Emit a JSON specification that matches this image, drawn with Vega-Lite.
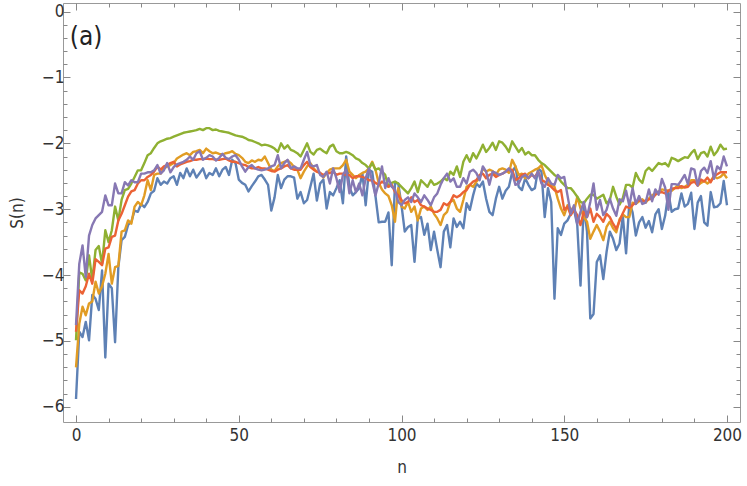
{
  "$schema": "https://vega.github.io/schema/vega-lite/v6.json",
  "width": 677,
  "height": 419,
  "autosize": {"type": "none"},
  "padding": {"left": 63, "top": 3, "right": 7, "bottom": 64},
  "config": {
    "view": {"stroke": "#999999", "strokeWidth": 1},
    "font": "DejaVu Sans Condensed, Liberation Sans Narrow, Roboto, sans-serif"
  },
  "datasets": {
    "s": [
      {"n":0,"a":-5.88,"b":-5.40,"c":-4.99,"d":-4.86,"e":-4.76},
      {"n":1,"a":-4.86,"b":-4.74,"c":-3.96,"d":-4.23,"e":-3.83},
      {"n":2,"a":-4.94,"b":-4.48,"c":-3.98,"d":-4.28,"e":-3.55},
      {"n":3,"a":-4.71,"b":-4.61,"c":-4.08,"d":-4.17,"e":-4.03},
      {"n":4,"a":-4.99,"b":-4.43,"c":-3.70,"d":-3.98,"e":-3.40},
      {"n":5,"a":-4.30,"b":-4.40,"c":-4.08,"d":-4.13,"e":-3.24},
      {"n":6,"a":-4.36,"b":-4.10,"c":-3.62,"d":-3.76,"e":-3.14},
      {"n":7,"a":-4.53,"b":-4.28,"c":-3.56,"d":-3.80,"e":-3.09},
      {"n":8,"a":-3.93,"b":-4.17,"c":-3.83,"d":-3.85,"e":-3.04},
      {"n":9,"a":-5.25,"b":-3.98,"c":-3.32,"d":-3.60,"e":-2.79},
      {"n":10,"a":-4.13,"b":-3.68,"c":-3.50,"d":-3.58,"e":-2.94},
      {"n":11,"a":-4.20,"b":-4.13,"c":-3.32,"d":-3.42,"e":-2.94},
      {"n":12,"a":-5.02,"b":-3.88,"c":-2.96,"d":-3.40,"e":-2.61},
      {"n":13,"a":-3.88,"b":-3.86,"c":-3.17,"d":-3.17,"e":-2.76},
      {"n":14,"a":-3.47,"b":-3.34,"c":-2.86,"d":-3.07,"e":-2.76},
      {"n":15,"a":-3.42,"b":-3.32,"c":-2.71,"d":-2.94,"e":-2.59},
      {"n":16,"a":-3.24,"b":-3.17,"c":-2.69,"d":-2.81,"e":-2.64},
      {"n":17,"a":-3.19,"b":-3.22,"c":-2.61,"d":-2.73,"e":-2.56},
      {"n":18,"a":-3.02,"b":-2.96,"c":-2.51,"d":-2.71,"e":-2.59},
      {"n":19,"a":-3.04,"b":-2.89,"c":-2.41,"d":-2.61,"e":-2.59},
      {"n":20,"a":-2.92,"b":-2.94,"c":-2.41,"d":-2.56,"e":-2.46},
      {"n":21,"a":-2.97,"b":-2.79,"c":-2.30,"d":-2.56,"e":-2.46},
      {"n":22,"a":-2.89,"b":-2.56,"c":-2.18,"d":-2.51,"e":-2.44},
      {"n":23,"a":-2.76,"b":-2.71,"c":-2.15,"d":-2.48,"e":-2.44},
      {"n":24,"a":-2.72,"b":-2.48,"c":-2.07,"d":-2.43,"e":-2.41},
      {"n":25,"a":-2.53,"b":-2.46,"c":-2.00,"d":-2.35,"e":-2.33},
      {"n":26,"a":-2.63,"b":-2.46,"c":-1.97,"d":-2.40,"e":-2.46},
      {"n":27,"a":-2.58,"b":-2.38,"c":-1.95,"d":-2.35,"e":-2.41},
      {"n":28,"a":-2.61,"b":-2.35,"c":-1.93,"d":-2.33,"e":-2.30},
      {"n":29,"a":-2.53,"b":-2.33,"c":-1.92,"d":-2.30,"e":-2.44},
      {"n":30,"a":-2.50,"b":-2.30,"c":-1.90,"d":-2.28,"e":-2.36},
      {"n":31,"a":-2.63,"b":-2.23,"c":-1.88,"d":-2.35,"e":-2.32},
      {"n":32,"a":-2.45,"b":-2.20,"c":-1.86,"d":-2.32,"e":-2.30},
      {"n":33,"a":-2.53,"b":-2.17,"c":-1.84,"d":-2.30,"e":-2.28},
      {"n":34,"a":-2.38,"b":-2.15,"c":-1.83,"d":-2.28,"e":-2.25},
      {"n":35,"a":-2.50,"b":-2.18,"c":-1.82,"d":-2.27,"e":-2.20},
      {"n":36,"a":-2.40,"b":-2.13,"c":-1.81,"d":-2.25,"e":-2.25},
      {"n":37,"a":-2.52,"b":-2.12,"c":-1.80,"d":-2.25,"e":-2.15},
      {"n":38,"a":-2.45,"b":-2.10,"c":-1.78,"d":-2.24,"e":-2.12},
      {"n":39,"a":-2.38,"b":-2.15,"c":-1.80,"d":-2.24,"e":-2.25},
      {"n":40,"a":-2.53,"b":-2.08,"c":-1.77,"d":-2.23,"e":-2.22},
      {"n":41,"a":-2.45,"b":-2.12,"c":-1.77,"d":-2.24,"e":-2.18},
      {"n":42,"a":-2.48,"b":-2.15,"c":-1.80,"d":-2.24,"e":-2.20},
      {"n":43,"a":-2.38,"b":-2.14,"c":-1.79,"d":-2.25,"e":-2.26},
      {"n":44,"a":-2.50,"b":-2.16,"c":-1.81,"d":-2.25,"e":-2.22},
      {"n":45,"a":-2.40,"b":-2.17,"c":-1.82,"d":-2.24,"e":-2.16},
      {"n":46,"a":-2.36,"b":-2.15,"c":-1.83,"d":-2.23,"e":-2.22},
      {"n":47,"a":-2.48,"b":-2.14,"c":-1.84,"d":-2.26,"e":-2.24},
      {"n":48,"a":-2.25,"b":-2.12,"c":-1.86,"d":-2.28,"e":-2.20},
      {"n":49,"a":-2.30,"b":-2.16,"c":-1.88,"d":-2.28,"e":-2.18},
      {"n":50,"a":-2.55,"b":-2.18,"c":-1.89,"d":-2.30,"e":-2.25},
      {"n":51,"a":-2.60,"b":-2.22,"c":-1.90,"d":-2.32,"e":-2.35},
      {"n":52,"a":-2.63,"b":-2.28,"c":-1.92,"d":-2.33,"e":-2.43},
      {"n":53,"a":-2.73,"b":-2.30,"c":-1.95,"d":-2.36,"e":-2.36},
      {"n":54,"a":-2.65,"b":-2.26,"c":-1.96,"d":-2.38,"e":-2.33},
      {"n":55,"a":-2.58,"b":-2.28,"c":-1.98,"d":-2.38,"e":-2.38},
      {"n":56,"a":-2.50,"b":-2.25,"c":-2.00,"d":-2.36,"e":-2.40},
      {"n":57,"a":-2.48,"b":-2.26,"c":-2.03,"d":-2.38,"e":-2.41},
      {"n":58,"a":-2.55,"b":-2.20,"c":-2.02,"d":-2.38,"e":-2.40},
      {"n":59,"a":-2.63,"b":-2.30,"c":-2.03,"d":-2.40,"e":-2.38},
      {"n":60,"a":-3.02,"b":-2.40,"c":-2.05,"d":-2.42,"e":-2.35},
      {"n":61,"a":-2.82,"b":-2.42,"c":-2.08,"d":-2.43,"e":-2.33},
      {"n":62,"a":-2.48,"b":-2.35,"c":-2.13,"d":-2.40,"e":-2.18},
      {"n":63,"a":-2.68,"b":-2.30,"c":-2.00,"d":-2.38,"e":-2.38},
      {"n":64,"a":-2.55,"b":-2.28,"c":-2.08,"d":-2.35,"e":-2.30},
      {"n":65,"a":-2.50,"b":-2.26,"c":-2.03,"d":-2.33,"e":-2.25},
      {"n":66,"a":-2.50,"b":-2.30,"c":-2.10,"d":-2.38,"e":-2.38},
      {"n":67,"a":-2.52,"b":-2.36,"c":-2.12,"d":-2.40,"e":-2.35},
      {"n":68,"a":-2.84,"b":-2.40,"c":-2.15,"d":-2.40,"e":-2.38},
      {"n":69,"a":-2.74,"b":-2.53,"c":-2.20,"d":-2.40,"e":-2.38},
      {"n":70,"a":-2.91,"b":-2.43,"c":-2.10,"d":-2.33,"e":-2.25},
      {"n":71,"a":-2.86,"b":-2.35,"c":-2.00,"d":-2.28,"e":-2.13},
      {"n":72,"a":-2.66,"b":-2.30,"c":-2.13,"d":-2.36,"e":-2.33},
      {"n":73,"a":-2.46,"b":-2.38,"c":-2.17,"d":-2.40,"e":-2.35},
      {"n":74,"a":-2.87,"b":-2.43,"c":-2.10,"d":-2.43,"e":-2.33},
      {"n":75,"a":-2.61,"b":-2.45,"c":-2.08,"d":-2.45,"e":-2.48},
      {"n":76,"a":-2.55,"b":-2.52,"c":-2.12,"d":-2.48,"e":-2.51},
      {"n":77,"a":-2.99,"b":-2.45,"c":-2.15,"d":-2.46,"e":-2.43},
      {"n":78,"a":-2.74,"b":-2.40,"c":-2.05,"d":-2.45,"e":-2.61},
      {"n":79,"a":-2.79,"b":-2.38,"c":-2.02,"d":-2.43,"e":-2.38},
      {"n":80,"a":-2.68,"b":-2.38,"c":-2.12,"d":-2.48,"e":-2.53},
      {"n":81,"a":-2.56,"b":-2.38,"c":-2.15,"d":-2.46,"e":-2.74},
      {"n":82,"a":-2.91,"b":-2.33,"c":-2.15,"d":-2.46,"e":-2.48},
      {"n":83,"a":-2.20,"b":-2.25,"c":-2.13,"d":-2.48,"e":-2.40},
      {"n":84,"a":-2.66,"b":-2.43,"c":-2.15,"d":-2.48,"e":-2.76},
      {"n":85,"a":-2.79,"b":-2.48,"c":-2.18,"d":-2.53,"e":-2.56},
      {"n":86,"a":-2.74,"b":-2.53,"c":-2.23,"d":-2.50,"e":-2.74},
      {"n":87,"a":-2.68,"b":-2.48,"c":-2.25,"d":-2.50,"e":-2.61},
      {"n":88,"a":-2.46,"b":-2.45,"c":-2.30,"d":-2.51,"e":-2.79},
      {"n":89,"a":-2.94,"b":-2.43,"c":-2.33,"d":-2.53,"e":-2.53},
      {"n":90,"a":-2.40,"b":-2.38,"c":-2.38,"d":-2.56,"e":-2.38},
      {"n":91,"a":-2.43,"b":-2.28,"c":-2.30,"d":-2.56,"e":-2.58},
      {"n":92,"a":-2.80,"b":-2.40,"c":-2.40,"d":-2.60,"e":-2.79},
      {"n":93,"a":-3.20,"b":-2.60,"c":-2.38,"d":-2.63,"e":-2.61},
      {"n":94,"a":-3.19,"b":-2.70,"c":-2.43,"d":-2.58,"e":-2.35},
      {"n":95,"a":-3.19,"b":-2.76,"c":-2.48,"d":-2.61,"e":-2.68},
      {"n":96,"a":-3.05,"b":-2.80,"c":-2.66,"d":-2.66,"e":-2.53},
      {"n":97,"a":-3.85,"b":-2.94,"c":-2.60,"d":-2.63,"e":-2.66},
      {"n":98,"a":-2.60,"b":-3.19,"c":-2.58,"d":-2.74,"e":-2.70},
      {"n":99,"a":-2.61,"b":-2.68,"c":-2.61,"d":-2.79,"e":-2.89},
      {"n":100,"a":-2.94,"b":-2.96,"c":-2.66,"d":-2.86,"e":-2.94},
      {"n":101,"a":-3.34,"b":-2.99,"c":-2.71,"d":-2.91,"e":-2.86},
      {"n":102,"a":-3.27,"b":-2.89,"c":-2.76,"d":-2.89,"e":-2.82},
      {"n":103,"a":-3.24,"b":-3.04,"c":-2.68,"d":-2.82,"e":-2.89},
      {"n":104,"a":-3.80,"b":-2.96,"c":-2.58,"d":-2.89,"e":-2.76},
      {"n":105,"a":-3.14,"b":-3.17,"c":-2.74,"d":-2.86,"e":-2.82},
      {"n":106,"a":-3.12,"b":-2.99,"c":-2.56,"d":-2.94,"e":-2.89},
      {"n":107,"a":-3.39,"b":-2.96,"c":-2.61,"d":-2.96,"e":-2.79},
      {"n":108,"a":-3.22,"b":-3.01,"c":-2.66,"d":-2.99,"e":-2.86},
      {"n":109,"a":-3.62,"b":-2.96,"c":-2.56,"d":-3.01,"e":-2.94},
      {"n":110,"a":-3.34,"b":-3.07,"c":-2.63,"d":-3.04,"e":-2.82},
      {"n":111,"a":-3.62,"b":-3.14,"c":-2.61,"d":-3.04,"e":-2.76},
      {"n":112,"a":-3.88,"b":-3.24,"c":-2.58,"d":-3.01,"e":-2.63},
      {"n":113,"a":-3.34,"b":-3.09,"c":-2.53,"d":-2.91,"e":-2.53},
      {"n":114,"a":-3.24,"b":-3.04,"c":-2.56,"d":-2.94,"e":-2.46},
      {"n":115,"a":-3.58,"b":-2.89,"c":-2.43,"d":-2.89,"e":-2.58},
      {"n":116,"a":-3.14,"b":-2.86,"c":-2.48,"d":-2.79,"e":-2.53},
      {"n":117,"a":-3.27,"b":-2.99,"c":-2.35,"d":-2.82,"e":-2.66},
      {"n":118,"a":-3.19,"b":-3.04,"c":-2.51,"d":-2.79,"e":-2.66},
      {"n":119,"a":-3.29,"b":-2.86,"c":-2.28,"d":-2.74,"e":-2.53},
      {"n":120,"a":-2.91,"b":-2.66,"c":-2.18,"d":-2.71,"e":-2.61},
      {"n":121,"a":-3.01,"b":-2.63,"c":-2.28,"d":-2.63,"e":-2.43},
      {"n":122,"a":-2.79,"b":-2.66,"c":-2.15,"d":-2.58,"e":-2.40},
      {"n":123,"a":-2.61,"b":-2.58,"c":-2.23,"d":-2.56,"e":-2.45},
      {"n":124,"a":-2.66,"b":-2.53,"c":-2.13,"d":-2.48,"e":-2.56},
      {"n":125,"a":-2.58,"b":-2.38,"c":-2.02,"d":-2.46,"e":-2.35},
      {"n":126,"a":-2.84,"b":-2.43,"c":-2.13,"d":-2.53,"e":-2.43},
      {"n":127,"a":-3.04,"b":-2.40,"c":-2.07,"d":-2.48,"e":-2.63},
      {"n":128,"a":-3.09,"b":-2.42,"c":-1.99,"d":-2.46,"e":-2.43},
      {"n":129,"a":-2.84,"b":-2.48,"c":-2.10,"d":-2.51,"e":-2.45},
      {"n":130,"a":-2.66,"b":-2.40,"c":-1.97,"d":-2.48,"e":-2.48},
      {"n":131,"a":-2.84,"b":-2.38,"c":-1.99,"d":-2.46,"e":-2.46},
      {"n":132,"a":-2.72,"b":-2.40,"c":-2.05,"d":-2.43,"e":-2.43},
      {"n":133,"a":-2.66,"b":-2.45,"c":-2.13,"d":-2.40,"e":-2.38},
      {"n":134,"a":-2.44,"b":-2.25,"c":-1.97,"d":-2.40,"e":-2.45},
      {"n":135,"a":-2.35,"b":-2.35,"c":-2.05,"d":-2.56,"e":-2.63},
      {"n":136,"a":-2.66,"b":-2.48,"c":-2.13,"d":-2.53,"e":-2.61},
      {"n":137,"a":-2.71,"b":-2.46,"c":-2.07,"d":-2.48,"e":-2.51},
      {"n":138,"a":-2.53,"b":-2.53,"c":-2.17,"d":-2.46,"e":-2.48},
      {"n":139,"a":-2.63,"b":-2.46,"c":-2.13,"d":-2.53,"e":-2.53},
      {"n":140,"a":-2.71,"b":-2.43,"c":-2.18,"d":-2.48,"e":-2.46},
      {"n":141,"a":-2.68,"b":-2.40,"c":-2.18,"d":-2.51,"e":-2.53},
      {"n":142,"a":-2.38,"b":-2.38,"c":-2.25,"d":-2.43,"e":-2.43},
      {"n":143,"a":-2.43,"b":-2.33,"c":-2.30,"d":-2.56,"e":-2.61},
      {"n":144,"a":-3.12,"b":-2.48,"c":-2.33,"d":-2.58,"e":-2.66},
      {"n":145,"a":-2.68,"b":-2.58,"c":-2.38,"d":-2.63,"e":-2.53},
      {"n":146,"a":-2.89,"b":-2.63,"c":-2.43,"d":-2.66,"e":-2.61},
      {"n":147,"a":-4.36,"b":-2.66,"c":-2.48,"d":-2.71,"e":-2.63},
      {"n":148,"a":-3.29,"b":-2.84,"c":-2.51,"d":-2.74,"e":-2.48},
      {"n":149,"a":-3.39,"b":-2.99,"c":-2.58,"d":-2.71,"e":-2.53},
      {"n":150,"a":-3.22,"b":-3.09,"c":-2.63,"d":-3.01,"e":-2.51},
      {"n":151,"a":-3.17,"b":-2.94,"c":-2.68,"d":-2.96,"e":-2.79},
      {"n":152,"a":-3.07,"b":-2.99,"c":-2.68,"d":-3.09,"e":-3.07},
      {"n":153,"a":-3.01,"b":-3.04,"c":-2.74,"d":-3.01,"e":-2.94},
      {"n":154,"a":-3.24,"b":-2.81,"c":-2.81,"d":-3.09,"e":-3.22},
      {"n":155,"a":-4.16,"b":-2.99,"c":-2.89,"d":-3.24,"e":-3.04},
      {"n":156,"a":-2.94,"b":-3.12,"c":-2.91,"d":-3.04,"e":-2.89},
      {"n":157,"a":-3.34,"b":-3.19,"c":-2.84,"d":-3.12,"e":-3.12},
      {"n":158,"a":-4.66,"b":-3.45,"c":-2.78,"d":-2.99,"e":-2.89},
      {"n":159,"a":-4.59,"b":-3.34,"c":-2.78,"d":-3.19,"e":-2.61},
      {"n":160,"a":-3.80,"b":-3.24,"c":-2.84,"d":-3.07,"e":-3.01},
      {"n":161,"a":-3.70,"b":-3.34,"c":-2.81,"d":-3.12,"e":-2.86},
      {"n":162,"a":-4.06,"b":-3.47,"c":-2.78,"d":-3.19,"e":-3.09},
      {"n":163,"a":-3.65,"b":-3.27,"c":-2.91,"d":-3.07,"e":-3.01},
      {"n":164,"a":-3.34,"b":-3.19,"c":-2.86,"d":-3.12,"e":-2.84},
      {"n":165,"a":-3.45,"b":-3.29,"c":-2.66,"d":-3.22,"e":-2.99},
      {"n":166,"a":-3.62,"b":-3.35,"c":-2.81,"d":-3.30,"e":-3.10},
      {"n":167,"a":-3.52,"b":-3.15,"c":-2.93,"d":-3.18,"e":-2.85},
      {"n":168,"a":-3.10,"b":-3.08,"c":-2.83,"d":-3.06,"e":-2.88},
      {"n":169,"a":-3.67,"b":-3.12,"c":-2.63,"d":-2.96,"e":-2.72},
      {"n":170,"a":-2.90,"b":-3.12,"c":-2.63,"d":-2.98,"e":-2.95},
      {"n":171,"a":-3.05,"b":-2.90,"c":-2.67,"d":-2.94,"e":-2.68},
      {"n":172,"a":-3.40,"b":-2.92,"c":-2.45,"d":-2.89,"e":-2.92},
      {"n":173,"a":-3.20,"b":-2.88,"c":-2.55,"d":-2.86,"e":-2.80},
      {"n":174,"a":-3.12,"b":-2.85,"c":-2.60,"d":-2.88,"e":-2.92},
      {"n":175,"a":-3.28,"b":-2.90,"c":-2.42,"d":-2.87,"e":-2.90},
      {"n":176,"a":-3.18,"b":-2.84,"c":-2.37,"d":-2.85,"e":-2.70},
      {"n":177,"a":-3.35,"b":-2.79,"c":-2.42,"d":-2.84,"e":-2.88},
      {"n":178,"a":-3.08,"b":-2.76,"c":-2.36,"d":-2.78,"e":-2.70},
      {"n":179,"a":-3.00,"b":-2.73,"c":-2.30,"d":-2.75,"e":-2.78},
      {"n":180,"a":-3.30,"b":-2.70,"c":-2.32,"d":-2.74,"e":-2.54},
      {"n":181,"a":-3.10,"b":-2.71,"c":-2.30,"d":-2.76,"e":-2.67},
      {"n":182,"a":-2.75,"b":-2.72,"c":-2.35,"d":-2.72,"e":-3.01},
      {"n":183,"a":-3.04,"b":-2.72,"c":-2.22,"d":-2.69,"e":-2.62},
      {"n":184,"a":-3.00,"b":-2.68,"c":-2.24,"d":-2.68,"e":-2.62},
      {"n":185,"a":-2.99,"b":-2.63,"c":-2.27,"d":-2.68,"e":-2.63},
      {"n":186,"a":-2.76,"b":-2.68,"c":-2.24,"d":-2.65,"e":-2.56},
      {"n":187,"a":-2.96,"b":-2.66,"c":-2.21,"d":-2.67,"e":-2.48},
      {"n":188,"a":-2.92,"b":-2.63,"c":-2.22,"d":-2.66,"e":-2.62},
      {"n":189,"a":-2.75,"b":-2.56,"c":-2.15,"d":-2.60,"e":-2.38},
      {"n":190,"a":-3.30,"b":-2.56,"c":-2.10,"d":-2.58,"e":-2.40},
      {"n":191,"a":-2.90,"b":-2.64,"c":-2.24,"d":-2.64,"e":-2.64},
      {"n":192,"a":-2.80,"b":-2.60,"c":-2.15,"d":-2.55,"e":-2.42},
      {"n":193,"a":-3.20,"b":-2.57,"c":-2.13,"d":-2.58,"e":-2.37},
      {"n":194,"a":-3.25,"b":-2.61,"c":-2.20,"d":-2.52,"e":-2.45},
      {"n":195,"a":-2.74,"b":-2.57,"c":-2.05,"d":-2.59,"e":-2.27},
      {"n":196,"a":-2.97,"b":-2.50,"c":-2.18,"d":-2.50,"e":-2.54},
      {"n":197,"a":-2.96,"b":-2.53,"c":-2.12,"d":-2.47,"e":-2.35},
      {"n":198,"a":-2.91,"b":-2.51,"c":-2.02,"d":-2.44,"e":-2.40},
      {"n":199,"a":-2.57,"b":-2.46,"c":-2.09,"d":-2.44,"e":-2.20},
      {"n":200,"a":-2.94,"b":-2.53,"c":-2.08,"d":-2.44,"e":-2.35}
    ]
  },
  "layer": [
    {
      "data": {"name": "s"},
      "transform": [{"fold": ["a", "b", "c", "d", "e"], "as": ["k", "v"]}],
      "mark": {"type": "line", "strokeWidth": 2.4, "strokeJoin": "round"},
      "encoding": {
        "x": {
          "field": "n", "type": "quantitative",
          "scale": {"domain": [-4, 204], "nice": false, "zero": false},
          "axis": {
            "orient": "bottom", "title": "n", "domain": false, "grid": false,
            "values": [0,10,20,30,40,50,60,70,80,90,100,110,120,130,140,150,160,170,180,190,200],
            "labelExpr": "datum.value % 50 === 0 ? format(datum.value, 'd') : ''",
            "tickColor": "#888888", "tickWidth": 1,
            "tickSize": {"condition": {"test": "datum.value % 50 === 0", "value": -7}, "value": -4},
            "labelPadding": 12, "labelFontSize": 17, "labelColor": "#333333",
            "labelOverlap": false, "labelFlush": false,
            "titleFontSize": 17, "titleFontWeight": "normal", "titleColor": "#333333", "titlePadding": 13
          }
        },
        "y": {
          "field": "v", "type": "quantitative",
          "scale": {"domain": [-6.23, 0.13], "nice": false, "zero": false},
          "axis": {
            "orient": "left", "title": "S(n)", "domain": false, "grid": false,
            "values": [-6,-5.8,-5.6,-5.4,-5.2,-5,-4.8,-4.6,-4.4,-4.2,-4,-3.8,-3.6,-3.4,-3.2,-3,-2.8,-2.6,-2.4,-2.2,-2,-1.8,-1.6,-1.4,-1.2,-1,-0.8,-0.6,-0.4,-0.2,0],
            "labelExpr": "datum.value % 1 === 0 ? format(datum.value, 'd') : ''",
            "tickColor": "#888888", "tickWidth": 1,
            "tickSize": {"condition": {"test": "datum.value % 1 === 0", "value": -7}, "value": -4},
            "labelPadding": 6, "labelFontSize": 17, "labelColor": "#333333",
            "labelOverlap": false, "labelFlush": false,
            "titleFontSize": 17, "titleFontWeight": "normal", "titleColor": "#333333", "titlePadding": 15
          }
        },
        "color": {
          "field": "k", "type": "nominal",
          "scale": {"domain": ["a", "b", "c", "d", "e"], "range": ["#5E81B5", "#E19C24", "#8FB032", "#EB6235", "#8778B3"]},
          "legend": null
        }
      }
    },
    {
      "data": {"values": [{"n": 0, "v": -3}]},
      "mark": {"type": "point", "opacity": 0},
      "encoding": {
        "x": {
          "field": "n", "type": "quantitative",
          "axis": {
            "orient": "top", "title": null, "domain": false, "grid": false, "labels": false,
            "values": [0,10,20,30,40,50,60,70,80,90,100,110,120,130,140,150,160,170,180,190,200],
            "tickColor": "#888888", "tickWidth": 1,
            "tickSize": {"condition": {"test": "datum.value % 50 === 0", "value": -7}, "value": -4}
          }
        },
        "y": {
          "field": "v", "type": "quantitative",
          "axis": {
            "orient": "right", "title": null, "domain": false, "grid": false, "labels": false,
            "values": [-6,-5.8,-5.6,-5.4,-5.2,-5,-4.8,-4.6,-4.4,-4.2,-4,-3.8,-3.6,-3.4,-3.2,-3,-2.8,-2.6,-2.4,-2.2,-2,-1.8,-1.6,-1.4,-1.2,-1,-0.8,-0.6,-0.4,-0.2,0],
            "tickColor": "#888888", "tickWidth": 1,
            "tickSize": {"condition": {"test": "datum.value % 1 === 0", "value": -7}, "value": -4}
          }
        }
      }
    },
    {
      "data": {"values": [{"n": -1.9, "v": -0.38, "t": "(a)"}]},
      "mark": {"type": "text", "align": "left", "baseline": "middle", "fontSize": 26, "color": "#222222"},
      "encoding": {
        "x": {"field": "n", "type": "quantitative", "axis": null},
        "y": {"field": "v", "type": "quantitative", "axis": null},
        "text": {"field": "t"}
      }
    }
  ],
  "resolve": {"axis": {"x": "independent", "y": "independent"}}
}
